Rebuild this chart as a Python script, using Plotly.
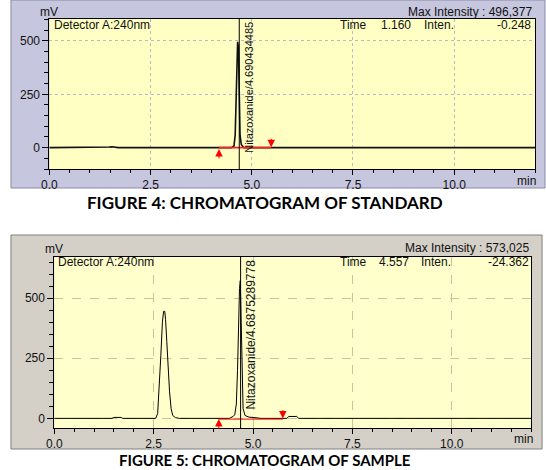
import plotly.graph_objects as go

W, H = 546, 470

# ---------------- data ----------------
# Figure 4: standard
t_std = [0.0, 1.40, 1.48, 1.55, 1.62, 1.70, 4.50, 4.56, 4.59, 4.61, 4.63, 4.65, 4.67, 4.69, 4.71, 4.74, 4.80, 12.0]
i_std = [0, 0, 3, 4, 2, 0, 0, 8, 60, 180, 380, 496, 470, 250, 60, 15, 0, 0]
std_rt = 4.690434485
std_label = "Nitazoxanide/4.690434485"
std_base = [4.19, 5.48]

# Figure 5: sample
t_smp = [0.0, 1.45, 1.50, 1.60, 1.68, 1.72, 2.55, 2.60, 2.64, 2.68, 2.72, 2.75, 2.78, 2.80, 2.83, 2.86,
         2.90, 2.94, 2.98, 3.05, 3.15, 4.40, 4.45, 4.50, 4.54, 4.58, 4.61, 4.63, 4.66, 4.68, 4.70,
         4.72, 4.75, 4.80, 4.90, 5.00, 5.20, 5.85, 5.90, 6.10, 6.15, 12.0]
i_smp = [0, 0, 4, 5, 4, 0, 0, 20, 120, 260, 400, 445, 445, 410, 320, 220,
         110, 40, 12, 3, 0, 0, 3, 8, 15, 60, 200, 380, 540, 573, 400,
         150, 40, 12, 5, 4, 0, 0, 8, 8, 0, 0]
smp_rt = 4.6875289778
smp_label = "Nitazoxanide/4.6875289778"
smp_base = [4.14, 5.75]

x_ticks_step = 2.5
y_ticks_step = 250

def py(y):  # pixel y -> paper y
    return 1 - y / H

def px(x):
    return x / W

FONT = "Liberation Sans, Arial, sans-serif"

fig = go.Figure()

# traces top
fig.add_trace(go.Scatter(x=t_std, y=i_std, mode="lines", line=dict(color="#111111", width=1.6),
                         xaxis="x", yaxis="y", showlegend=False, hoverinfo="skip"))
fig.add_trace(go.Scatter(x=std_base, y=[0, 0], mode="lines", line=dict(color="#ff2020", width=1.8),
                         xaxis="x", yaxis="y", showlegend=False, hoverinfo="skip"))
# traces bottom
fig.add_trace(go.Scatter(x=t_smp, y=i_smp, mode="lines", line=dict(color="black", width=1),
                         xaxis="x2", yaxis="y2", showlegend=False, hoverinfo="skip"))
fig.add_trace(go.Scatter(x=smp_base, y=[-3, -3], mode="lines", line=dict(color="#ff0000", width=1),
                         xaxis="x2", yaxis="y2", showlegend=False, hoverinfo="skip"))

# panel geometry (pixels)
D = 3  # small upward shift of the lower chart so its caption fits
top_plot = dict(x0=42, x1=535, y0=19, y1=169)
bot_plot = dict(x0=47, x1=531, y0=260 - D, y1=431 - D)

def xaxis_cfg(dom, gridcolor, griddash, anchor):
    return dict(domain=dom, range=[0, 12], showline=True, linecolor="black", linewidth=1, mirror=True,
                ticks="outside", ticklen=5, tickcolor="black", tick0=0, dtick=x_ticks_step,
                tickformat=".1f", showgrid=True, gridcolor=gridcolor, griddash=griddash, gridwidth=1,
                zeroline=False, anchor=anchor,
                tickfont=dict(family=FONT, size=12, color="#111111"),
                minor=dict(dtick=0.5, tick0=0, ticks="outside", ticklen=3, tickcolor="black", showgrid=False))

def yaxis_cfg(dom, rng, gridcolor, griddash, anchor):
    return dict(domain=dom, range=rng, showline=True, linecolor="black", linewidth=1, mirror=True,
                ticks="outside", ticklen=6, tickcolor="black", tick0=0, dtick=y_ticks_step,
                showgrid=True, gridcolor=gridcolor, griddash=griddash, gridwidth=1,
                zeroline=False, anchor=anchor,
                tickfont=dict(family=FONT, size=12, color="#111111"),
                minor=dict(dtick=50, tick0=0, ticks="outside", ticklen=4, tickcolor="black", showgrid=False))

layout = dict(
    width=W, height=H, margin=dict(l=0, r=0, t=0, b=0),
    paper_bgcolor="white", plot_bgcolor="rgba(0,0,0,0)",
    xaxis=xaxis_cfg([px(top_plot["x0"]), px(top_plot["x1"])], "#b8b8c8", "dot", "y"),
    yaxis=yaxis_cfg([py(top_plot["y1"]), py(top_plot["y0"])], [-100, 603], "#b8b8c8", "dot", "x"),
    xaxis2=xaxis_cfg([px(bot_plot["x0"]), px(bot_plot["x1"])], "#c8c4a0", "dash", "y2"),
    yaxis2=yaxis_cfg([py(bot_plot["y1"]), py(bot_plot["y0"])], [-40, 671], "#c8c4a0", "dash", "x2"),
)
fig.update_layout(**layout)

shapes = []
# outer panels
shapes.append(dict(type="rect", xref="paper", yref="paper", x0=px(3), x1=px(545), y0=py(188), y1=py(0),
                   fillcolor="#c6c6de", line=dict(color="#8a8aa6", width=1), layer="below"))
shapes.append(dict(type="rect", xref="paper", yref="paper", x0=px(3), x1=px(542), y0=py(452 - D), y1=py(238 - D),
                   fillcolor="#d4d0c8", line=dict(color="#808080", width=1), layer="below"))
# plot backgrounds
shapes.append(dict(type="rect", xref="x domain", yref="y domain", x0=0, x1=1, y0=0, y1=1,
                   fillcolor="#ffffc4", line=dict(width=0), layer="below"))
shapes.append(dict(type="rect", xref="x2 domain", yref="y2 domain", x0=0, x1=1, y0=0, y1=1,
                   fillcolor="#ffffcc", line=dict(width=0), layer="below"))
# retention-time markers
shapes.append(dict(type="line", xref="x", yref="y domain", x0=std_rt, x1=std_rt, y0=0, y1=1,
                   line=dict(color="black", width=1)))
shapes.append(dict(type="line", xref="x2", yref="y2 domain", x0=smp_rt, x1=smp_rt, y0=0, y1=1,
                   line=dict(color="black", width=1)))
fig.update_layout(shapes=shapes)

ann = []
def txt(x, y, text, xanchor="center", yanchor="middle", size=12, family=FONT, color="#111111", pad=1):
    ann.append(dict(xref="paper", yref="paper", x=px(x), y=py(y), text=text, showarrow=False,
                    xanchor=xanchor, yanchor=yanchor, borderpad=pad,
                    font=dict(family=family, size=size, color=color)))

# top chart texts
txt(42, 12, "mV")
txt(526, 181, "min")
txt(45, 25, "Detector A:240nm", xanchor="left")
txt(534, 12, "Max Intensity : 496,377", xanchor="right")
txt(351, 25, "Time")
txt(394, 25, "1.160")
txt(437, 25, "Inten.")
txt(533, 25, "-0.248", xanchor="right")
# bottom chart texts
txt(47, 252 - D, "mV")
txt(523, 442 - D, "min")
txt(49, 265 - D, "Detector A:240nm", xanchor="left")
txt(531, 251 - D, "Max Intensity : 573,025", xanchor="right")
txt(351, 265 - D, "Time")
txt(392, 265 - D, "4.557")
txt(434, 265 - D, "Inten.")
txt(531, 265 - D, "-24.362", xanchor="right")

# captions
CAP = "Lato, Open Sans, sans-serif"
txt(261, 202, "<b>FIGURE 4: CHROMATOGRAM OF STANDARD</b>", size=17, family=CAP, color="black")
txt(261, 470, "<b>FIGURE 5: CHROMATOGRAM OF SAMPLE</b>", yanchor="bottom", size=15, family=CAP,
    color="black", pad=0)

# rotated peak labels
ann.append(dict(xref="x", yref="y domain", x=std_rt, y=1, text=std_label, textangle=-90, showarrow=False,
                xanchor="left", yanchor="top", xshift=1, yshift=-1,
                font=dict(family=FONT, size=11, color="#111111")))
ann.append(dict(xref="x2", yref="y2 domain", x=smp_rt, y=1, text=smp_label, textangle=-90, showarrow=False,
                xanchor="left", yanchor="top", xshift=1, yshift=-1,
                font=dict(family=FONT, size=12, color="#111111")))

# baseline arrows
for xr, yr, xa, ya_pos, ay in [("x", "y", std_base[0], -6, 11), ("x", "y", std_base[1], 2, -10),
                               ("x2", "y2", smp_base[0], -3, 11), ("x2", "y2", smp_base[1], -1, -10)]:
    ann.append(dict(xref=xr, yref=yr, x=xa, y=ya_pos, ax=0, ay=ay, text="", showarrow=True,
                    arrowhead=2, arrowsize=1.5, arrowwidth=1, arrowcolor="#ff0000", standoff=0))

fig.update_layout(annotations=ann)
fig.write_html("out.html")
